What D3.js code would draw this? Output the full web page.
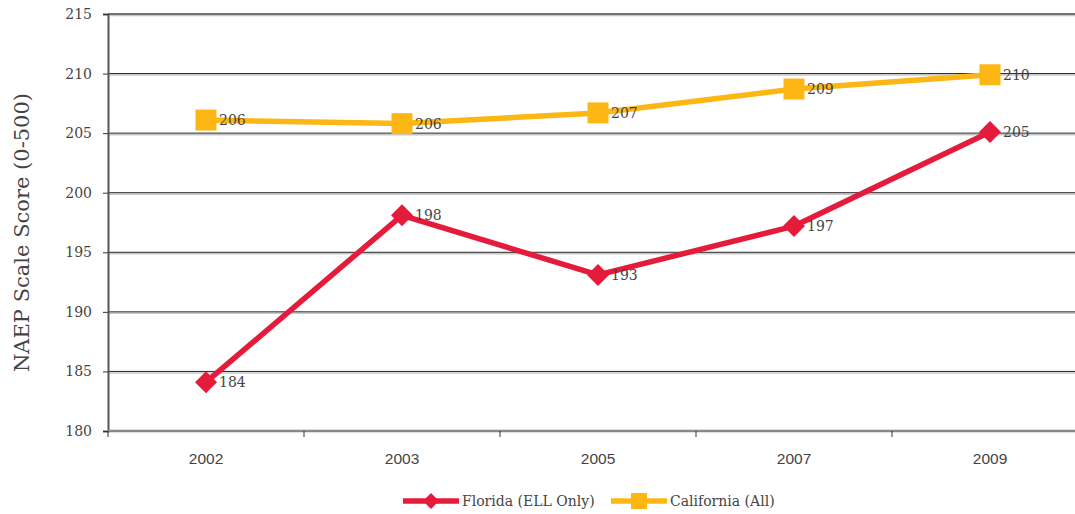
<!DOCTYPE html>
<html><head><meta charset="utf-8">
<script src="https://cdn.jsdelivr.net/npm/d3@7"></script>
<style>
body{margin:0;background:#fff;}
svg{display:block;}
</style></head>
<body>
<svg id="chart" width="1075" height="514"></svg>
<script>
const years = ["2002","2003","2005","2007","2009"];
const florida = [184.1, 198.1, 193.1, 197.2, 205.1];
const california = [206.1, 205.8, 206.7, 208.7, 209.9];
const floridaLabels = ["184","198","193","197","205"];
const californiaLabels = ["206","206","207","209","210"];
const yTicks = [180,185,190,195,200,205,210,215];
const seriesNames = ["Florida (ELL Only)","California (All)"];
const colors = ["#E41B3A","#FDB714"];

(function(){
const svg = d3.select("#chart");
const pLeft = 108, pRight = 1088, pTop = 14, pBottom = 431;
const x = d3.scaleBand().domain(years).range([pLeft, pRight]);
const y = d3.scaleLinear().domain([180,215]).range([pBottom, pTop]);
const serif = "'DejaVu Serif', serif";
const sans = "'Liberation Sans', Arial, sans-serif";

// gridlines with gray shadow
const grid = svg.append("g");
yTicks.slice(1).forEach(t=>{
  grid.append("line").attr("x1",pLeft).attr("x2",1075).attr("y1",y(t)+1.5).attr("y2",y(t)+1.5)
    .attr("stroke","#c8c8c8").attr("stroke-width",1.5);
  grid.append("line").attr("x1",pLeft).attr("x2",1075).attr("y1",y(t)).attr("y2",y(t))
    .attr("stroke", t===215 ? "#444" : "#222").attr("stroke-width", t===215?1.6:1);
});

// y axis
const yAxis = svg.append("g").attr("transform",`translate(${pLeft},0)`)
  .call(d3.axisLeft(y).tickValues(yTicks).tickSize(5).tickPadding(11).tickFormat(d3.format("d")));
yAxis.select(".domain").attr("stroke","#555").attr("stroke-width",2);
yAxis.selectAll(".tick line").attr("stroke","#333");
yAxis.selectAll("text").attr("font-family",serif).attr("font-size",14).attr("fill","#444");

// x axis
const xAxis = svg.append("g").attr("transform",`translate(0,${pBottom})`)
  .call(d3.axisBottom(x).tickSize(0).tickPadding(22));
xAxis.select(".domain").remove();
svg.append("line").attr("x1",pLeft).attr("x2",1075).attr("y1",pBottom).attr("y2",pBottom)
  .attr("stroke","#888").attr("stroke-width",2.5);
const bnds = years.map(d=>x(d));
svg.append("g").selectAll("line").data(bnds).join("line")
  .attr("x1",d=>d).attr("x2",d=>d).attr("y1",pBottom).attr("y2",pBottom+6)
  .attr("stroke","#333").attr("stroke-width",1);
xAxis.selectAll("text").attr("font-family",sans).attr("font-size",15.5).attr("fill","#444");

// y title
svg.append("text").attr("transform",`translate(29,${(pTop+pBottom)/2+10}) rotate(-90)`)
  .attr("text-anchor","middle").attr("font-family",serif).attr("font-size",21)
  .attr("fill","#444").text("NAEP Scale Score (0-500)");

const cx = d => x(d) + x.bandwidth()/2;
const line = d3.line().x((d,i)=>cx(years[i])).y(d=>y(d));

function drawSeries(vals, labels, color, shape){
  const g = svg.append("g");
  g.append("path").datum(vals).attr("d",line).attr("fill","none")
    .attr("stroke",color).attr("stroke-width",5.5).attr("stroke-linejoin","miter");
  g.selectAll("path.m").data(vals).join("path").attr("class","m")
    .attr("d",(d,i)=> shape==="square"
      ? `M${cx(years[i])-10.5},${y(d)-10.5}h21v21h-21z`
      : `M${cx(years[i])},${y(d)-11}l11,11l-11,11l-11,-11z`)
    .attr("fill",color);
  g.selectAll("text").data(vals).join("text")
    .attr("x",(d,i)=>cx(years[i])+13).attr("y",d=>y(d)+5)
    .attr("font-family",serif).attr("font-size",14).attr("fill","#444")
    .text((d,i)=>labels[i]);
}
drawSeries(florida, floridaLabels, colors[0], "diamond");
drawSeries(california, californiaLabels, colors[1], "square");

// legend
const legend = svg.append("g");
const ly = 501;
const items = [{x:403, name:seriesNames[0], c:colors[0], s:"diamond"},{x:611, name:seriesNames[1], c:colors[1], s:"square"}];
items.forEach(it=>{
  legend.append("line").attr("x1",it.x).attr("x2",it.x+56).attr("y1",ly).attr("y2",ly)
    .attr("stroke",it.c).attr("stroke-width",5.5);
  const mx = it.x+28;
  legend.append("path").attr("d", it.s==="square" ? `M${mx-8},${ly-8}h16v16h-16z` : `M${mx},${ly-8}l8,8l-8,8l-8,-8z`)
    .attr("fill",it.c);
  legend.append("text").attr("x",it.x+59).attr("y",ly+5).attr("font-family",serif)
    .attr("font-size",14).attr("fill","#444").text(it.name);
});
})();
</script>
</body></html>
